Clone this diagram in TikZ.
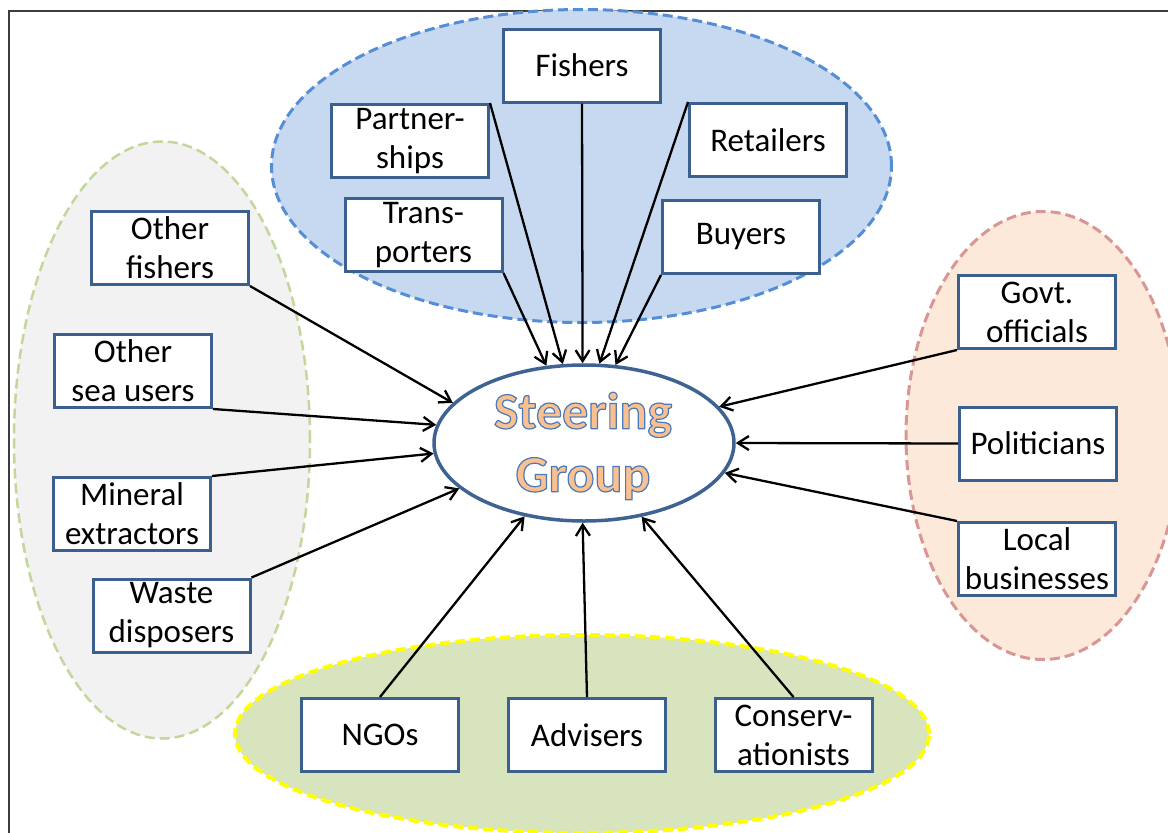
\documentclass[tikz,border=0pt]{standalone}
\usepackage{fontspec}
\setmainfont{Carlito}
\usetikzlibrary{arrows.meta,shapes.geometric}
\definecolor{boxblue}{RGB}{60,96,142}
\definecolor{sgblue}{RGB}{62,98,145}
\definecolor{topfill}{RGB}{198,217,241}
\definecolor{topline}{RGB}{85,142,213}
\definecolor{leftfill}{RGB}{242,242,242}
\definecolor{leftline}{RGB}{195,214,155}
\definecolor{rightfill}{RGB}{253,233,217}
\definecolor{rightline}{RGB}{217,150,148}
\definecolor{botfill}{RGB}{215,228,189}
\definecolor{botline}{RGB}{255,255,0}
\definecolor{sgorange}{RGB}{250,192,144}
\definecolor{framegray}{RGB}{60,60,60}
\newcommand{\outlinedword}[1]{\textcolor{sgorange}{\special{pdf:literal direct 0.29 0.48 0.73 RG 1.2 w 1 j 2 Tr}#1\special{pdf:literal direct 0 Tr}}}
\tikzset{
  group/.style={ellipse, inner sep=0pt, dash pattern=on 10pt off 5pt},
  stake/.style={draw=boxblue, line width=3pt, fill=white, minimum width=157pt,
    minimum height=73pt, inner sep=0pt, align=center,
    font=\fontsize{33}{39}\selectfont},
  arr/.style={line width=2.3pt, -{Straight Barb[length=11pt,width=14pt]}}
}
\begin{document}
\begin{tikzpicture}[x=1pt,y=-1pt]
\useasboundingbox (0,0) rectangle (1168,833);
\clip (0,0) rectangle (1168,833);
% frame
\draw[framegray, line width=2pt] (9,833) -- (9,11) -- (1168,11);
% group ellipses
\node[group, draw=topline, fill=topfill, line width=3pt, minimum width=620pt, minimum height=313pt] (gtop) at (581.5,166) {};
\node[group, draw=leftline, fill=leftfill, line width=2.5pt, minimum width=296pt, minimum height=597pt] (gleft) at (162,440) {};
\node[group, draw=rightline, fill=rightfill, line width=3pt, minimum width=274pt, minimum height=448pt] (gright) at (1043,435.5) {};
\node[group, draw=botline, fill=botfill, line width=4pt, minimum width=694pt, minimum height=198pt] (gbot) at (582,734) {};
% steering group
\node[ellipse, draw=sgblue, line width=3.5pt, fill=white, minimum width=300pt, minimum height=156pt, inner sep=0pt] (sg) at (584,443) {};
\node[align=center, inner sep=0pt, font=\bfseries\fontsize{52}{63}\selectfont] (sgtext) at (583,446)
  {\outlinedword{Steering}\\\outlinedword{Group}};
% stakeholder boxes
\node[stake] (fishers) at (582,65.5) {Fishers};
\node[stake] (partner) at (410,141) {Partner-\\ships};
\node[stake] (retail) at (768,140) {Retailers};
\node[stake] (trans) at (423.5,235) {Trans-\\porters};
\node[stake] (buyers) at (741,237) {Buyers};
\node[stake] (ofish) at (170,248) {Other\\fishers};
\node[stake] (osea) at (133,371) {Other\\sea users};
\node[stake] (mineral) at (132,514) {Mineral\\extractors};
\node[stake] (waste) at (171.5,615.5) {Waste\\disposers};
\node[stake] (govt) at (1037,312) {Govt.\\officials};
\node[stake] (polit) at (1038,443.5) {Politicians};
\node[stake] (local) at (1037,559) {Local\\businesses};
\node[stake] (ngos) at (380,735) {NGOs};
\node[stake] (advis) at (587,735) {Advisers};
\node[stake] (conserv) at (793.5,735) {Conserv-\\ationists};
% connectors
\draw[arr] (fishers.south) -- (sg.91);
\draw[arr] (partner.north east) -- (sg.105);
\draw[arr] (trans.south east) -- (sg.116);
\draw[arr] (retail.north west) -- (sg.79);
\draw[arr] (buyers.south west) -- (sg.68);
\draw[arr] (ofish.south east) -- (sg.163.5);
\draw[arr] (osea.south east) -- (sg.173.5);
\draw[arr] (mineral.north east) -- (sg.184);
\draw[arr] (waste.north east) -- (sg.200.5);
\draw[arr] (ngos.north) -- (sg.231.5);
\draw[arr] (advis.north) -- (sg.269);
\draw[arr] (conserv.north) -- (sg.308);
\draw[arr] (govt.south west) -- (sg.15.5);
\draw[arr] (polit.west) -- (sg.0);
\draw[arr] (local.north west) -- (sg.348);
\end{tikzpicture}
\end{document}
